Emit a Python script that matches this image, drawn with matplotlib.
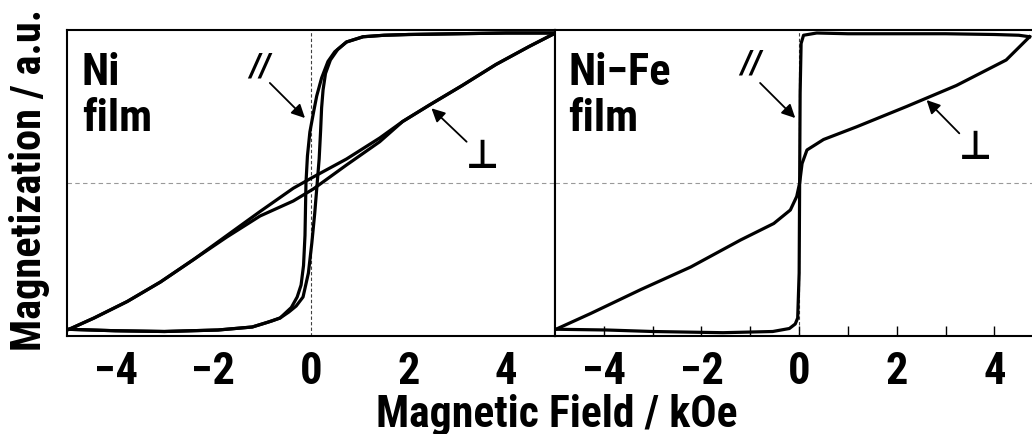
import matplotlib
matplotlib.use('Agg')
import matplotlib.pyplot as plt
from matplotlib import font_manager as fm
from matplotlib.ticker import FixedLocator

# pick a narrow bold sans if one is installed
fonts = [(f.name, f.stretch) for f in fm.fontManager.ttflist]
family, stretch = 'Liberation Sans', 'normal'
for name, st in [('Liberation Sans Narrow', None), ('Roboto Condensed', None),
                 ('Open Sans Condensed', None), ('DejaVu Sans', 'condensed'),
                 ('Noto Sans', 'condensed'), ('Open Sans', 'condensed'),
                 ('Roboto', 'condensed'), ('Noto Sans', 'semi-condensed'),
                 ('DejaVu Sans', 'semi-condensed')]:
    hit = [s for n, s in fonts if n == name and (st is None or s == st)]
    if hit:
        family, stretch = name, hit[0]
        break

plt.rcParams['font.family'] = [family, 'DejaVu Sans']
plt.rcParams['font.stretch'] = stretch
plt.rcParams['font.weight'] = 'bold'

# Ni film, field parallel to film (//): descending and ascending branches
ni_par_dn_H = [-5.0, -4.0, -3.0, -1.9, -1.2, -0.9, -0.63, -0.40, -0.28, -0.20, -0.15,
               -0.12, -0.10, -0.07, -0.02, 0.06, 0.12, 0.22, 0.35, 0.49, 0.73, 1.07,
               1.5, 2.0, 3.0, 4.0, 5.0]
ni_par_dn_M = [-0.975, -0.985, -0.99, -0.98, -0.96, -0.93, -0.90, -0.83, -0.76, -0.68, -0.55,
               -0.35, 0.0, 0.18, 0.34, 0.48, 0.58, 0.70, 0.81, 0.875, 0.94, 0.975,
               0.985, 0.99, 0.995, 1.0, 1.0]
ni_par_up_H = [-5.0, -4.0, -3.0, -1.9, -1.2, -0.8, -0.63, -0.45, -0.30, -0.16, -0.05,
               0.02, 0.08, 0.13, 0.17, 0.20, 0.22, 0.25, 0.30, 0.40, 0.55, 0.73, 1.07,
               1.5, 2.0, 3.0, 4.0, 5.0]
ni_par_up_M = [-0.975, -0.985, -0.99, -0.98, -0.96, -0.92, -0.90, -0.86, -0.82, -0.76, -0.60,
               -0.40, -0.20, 0.0, 0.16, 0.35, 0.50, 0.62, 0.73, 0.82, 0.89, 0.94, 0.975,
               0.985, 0.99, 0.995, 1.0, 1.0]

# Ni film, field perpendicular to film
ni_perp_H = [-4.95, -4.44, -3.76, -3.08, -2.40, -1.72, -1.04, -0.36, 0.05, 0.73, 1.41,
             1.88, 2.43, 3.10, 3.79, 4.47, 4.95]
ni_perp_dn_M = [-0.975, -0.90, -0.79, -0.66, -0.51, -0.35, -0.19, -0.035, 0.04, 0.16, 0.30,
                0.41, 0.52, 0.65, 0.79, 0.91, 0.99]
ni_perp_up_M = [-0.975, -0.90, -0.79, -0.66, -0.51, -0.36, -0.22, -0.12, -0.04, 0.12, 0.275,
                0.41, 0.52, 0.65, 0.79, 0.91, 0.99]

# Ni-Fe film, parallel
nife_par_H = [-4.98, -3.94, -3.0, -1.56, -0.54, -0.20, -0.08, -0.03, 0.0, 0.01, 0.02,
              0.04, 0.09, 0.36, 1.0, 2.0, 3.0, 4.0, 4.5, 4.72]
nife_par_M = [-0.975, -0.98, -0.99, -0.998, -0.99, -0.97, -0.94, -0.90, -0.60, 0.0, 0.60,
              0.93, 0.985, 1.0, 0.995, 0.995, 0.995, 0.99, 0.985, 0.975]

# Ni-Fe film, perpendicular
nife_perp_H = [-4.98, -4.27, -3.24, -2.22, -1.20, -0.52, -0.18, -0.05, 0.01, 0.06, 0.16,
               0.50, 1.18, 2.20, 3.22, 4.24, 4.72]
nife_perp_M = [-0.975, -0.87, -0.71, -0.56, -0.38, -0.27, -0.18, -0.09, 0.0, 0.13, 0.22,
               0.29, 0.375, 0.51, 0.65, 0.82, 0.975]

xticks = [-4, -2, 0, 2, 4]
W, H = 1032, 434
fs = 32 if stretch != 'normal' else 28

fig = plt.figure(figsize=(W / 100, H / 100), dpi=100)
ax1 = fig.add_axes([66.7 / W, 98 / H, 488.3 / W, 306 / H])
ax2 = fig.add_axes([555 / W, 98 / H, 488.3 / W, 306 / H])

for ax in (ax1, ax2):
    ax.set_xlim(-5, 5)
    ax.set_ylim(-1.02, 1.02)
    ax.set_yticks([])
    ax.set_xticks(xticks)
    ax.set_xticklabels([f'{t}'.replace('-', '\u2212') for t in xticks], fontsize=fs, fontweight='bold')
    ax.axvline(0, color='0.25', lw=0.8, ls=(0, (3, 2)), zorder=1)
    ax.axhline(0, color='0.6', lw=0.8, ls=(0, (4, 3)), zorder=1)
    for sp in ax.spines.values():
        sp.set_linewidth(1.5)

ax1.tick_params(axis='x', length=0, pad=11)
ax2.xaxis.set_minor_locator(FixedLocator([-3, -1, 1, 3]))
ax2.tick_params(axis='x', which='both', direction='in', length=7, width=1, pad=11)

lw = 2.3
ax1.plot(ni_par_dn_H, ni_par_dn_M, color='k', lw=lw)
ax1.plot(ni_par_up_H, ni_par_up_M, color='k', lw=lw)
ax1.plot(ni_perp_H, ni_perp_dn_M, color='k', lw=lw)
ax1.plot(ni_perp_H, ni_perp_up_M, color='k', lw=lw)
ax2.plot(nife_par_H, nife_par_M, color='k', lw=lw)
ax2.plot(nife_perp_H, nife_perp_M, color='k', lw=lw)

# sample names
ax1.text(-4.69, 0.653, 'Ni', fontsize=fs, fontweight='bold', va='baseline')
ax1.text(-4.69, 0.347, 'film', fontsize=fs, fontweight='bold', va='baseline')
ax2.text(-4.73, 0.653, 'Ni\u2212Fe', fontsize=fs, fontweight='bold', va='baseline')
ax2.text(-4.73, 0.347, 'film', fontsize=fs, fontweight='bold', va='baseline')

arrow = dict(arrowstyle='-|>', lw=1.3, color='k', mutation_scale=20, shrinkA=0, shrinkB=0)

# parallel labels
ax1.text(-1.04, 0.77, '//', fontsize=24, fontstyle='italic', fontweight='bold', ha='center', va='center')
ax1.annotate('', xy=(-0.12, 0.433), xytext=(-0.84, 0.667), arrowprops=arrow)
ax2.text(-0.98, 0.79, '//', fontsize=24, fontstyle='italic', fontweight='bold', ha='center', va='center')
ax2.annotate('', xy=(-0.08, 0.433), xytext=(-0.80, 0.667), arrowprops=arrow)

# perpendicular labels
ax1.text(3.51, 0.17, '\u22a5', fontsize=29, family=['DejaVu Sans'], fontweight='bold', ha='center', va='center')
ax1.annotate('', xy=(2.47, 0.498), xytext=(3.19, 0.275), arrowprops=arrow)
ax2.text(3.62, 0.233, '\u22a5', fontsize=29, family=['DejaVu Sans'], fontweight='bold', ha='center', va='center')
ax2.annotate('', xy=(2.61, 0.553), xytext=(3.28, 0.331), arrowprops=arrow)

fig.text(557 / W, (H - 427) / H, 'Magnetic Field / kOe', fontsize=fs - 0.5, fontweight='bold',
         ha='center', va='baseline')
fig.text(30 / W, (H - 180) / H, 'Magnetization / a.u.', fontsize=fs - 1.5, fontweight='bold',
         rotation=90, ha='center', va='center')

fig.savefig('out.png', dpi=100)
